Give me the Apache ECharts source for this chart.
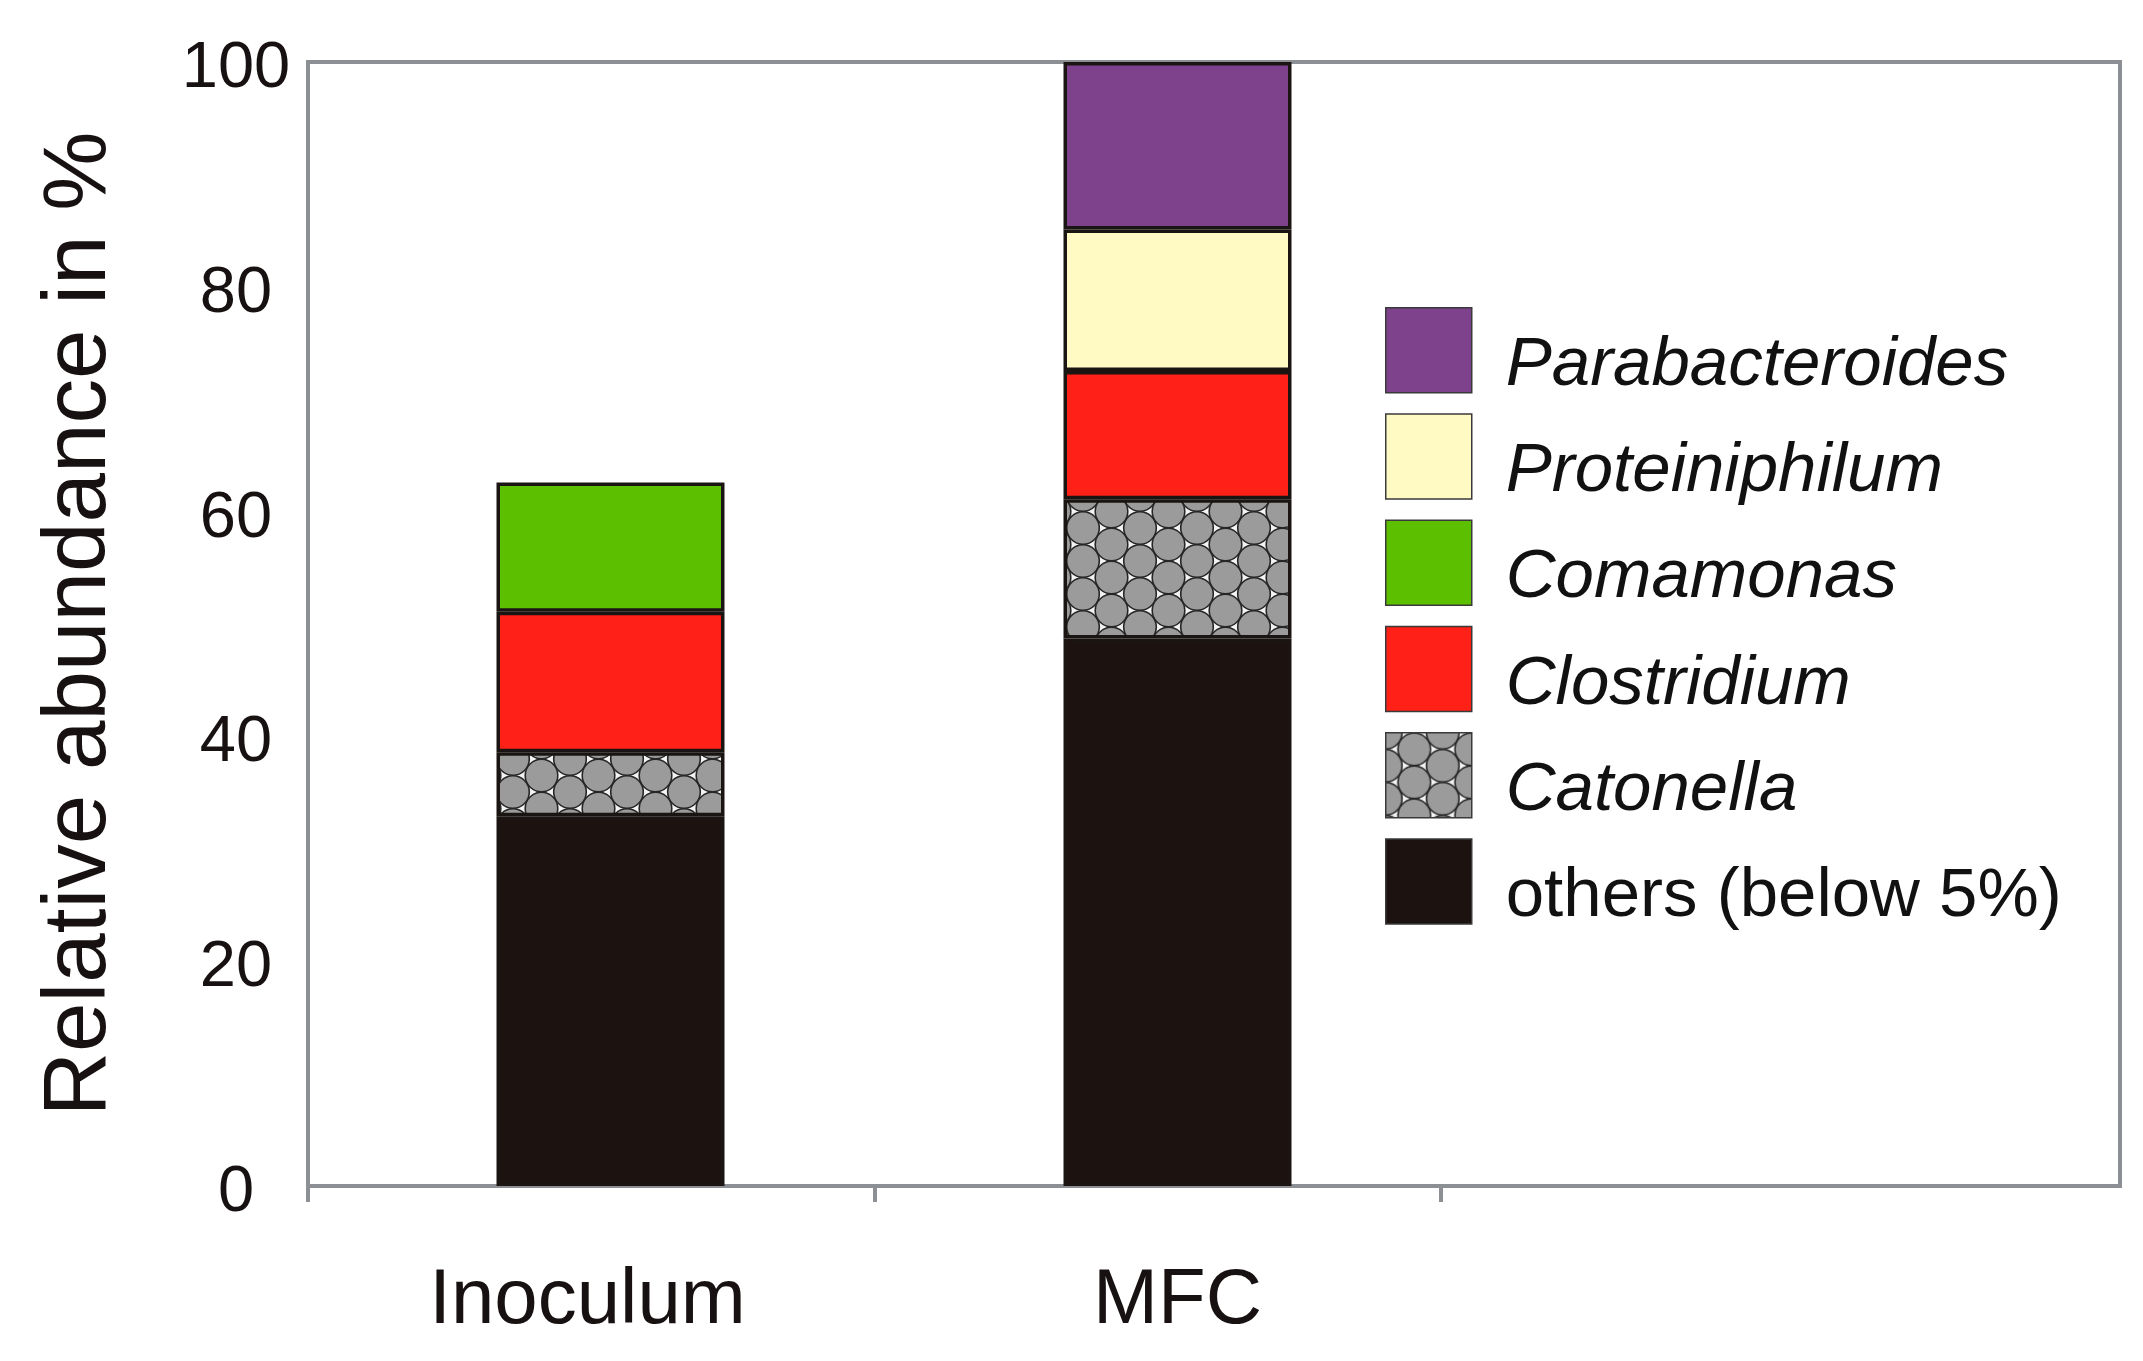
<!DOCTYPE html>
<html>
<head>
<meta charset="utf-8">
<script src="https://cdn.jsdelivr.net/npm/echarts@6/dist/echarts.min.js"></script>
<style>
  html, body { margin: 0; padding: 0; background: #fff; }
  #box { width: 2143px; height: 1361px; }
</style>
</head>
<body>
<div id="box"></div>
<script>
var chart = echarts.init(document.getElementById('box'));

// samples on the x axis
var categories = ['Inoculum', 'MFC'];
// relative abundance in %, bottom of the stack first
var others = [32.9, 48.7];
var catonella = [5.7, 12.4];
var clostridium = [12.5, 11.4];
var comamonas = [11.5, 0];
var proteiniphilum = [0, 12.6];
var parabacteroides = [0, 14.9];
var yTicks = [0, 20, 40, 60, 80, 100];

var FONT = '"Liberation Sans", Arial, sans-serif';
var AXIS_GREY = '#8C8F94';
var EDGE = '#1a1412';

// circle texture used for Catonella
function circlePattern() {
  var w = 57, h = 33, r = 16.3;
  var c = document.createElement('canvas');
  c.width = w; c.height = h;
  var ctx = c.getContext('2d');
  ctx.fillStyle = '#f4f4f4';
  ctx.fillRect(0, 0, w, h);
  var pts = [[0, 0], [w, 0], [0, h], [w, h], [w / 2, h / 2]];
  pts.forEach(function (p) {
    ctx.beginPath();
    ctx.arc(p[0], p[1], r, 0, Math.PI * 2);
    ctx.fillStyle = '#9b9b9b';
    ctx.fill();
    ctx.lineWidth = 1.6;
    ctx.strokeStyle = '#262626';
    ctx.stroke();
  });
  return { image: c, repeat: 'repeat' };
}

var layers = [
  { name: 'others (below 5%)', data: others, color: '#1C1311' },
  { name: 'Catonella', data: catonella, color: circlePattern() },
  { name: 'Clostridium', data: clostridium, color: '#FF2117' },
  { name: 'Comamonas', data: comamonas, color: '#5CC000' },
  { name: 'Proteiniphilum', data: proteiniphilum, color: '#FFFAC4' },
  { name: 'Parabacteroides', data: parabacteroides, color: '#7E418C' }
];

var series = layers.map(function (l) {
  return {
    name: l.name,
    type: 'bar',
    stack: 'total',
    xAxisIndex: 1,
    yAxisIndex: 1,
    barWidth: 228,
    data: l.data.map(function (v) { return v ? v : '-'; }),
    itemStyle: { color: l.color, borderColor: EDGE, borderWidth: 3.5 }
  };
});

var option = {
  animation: false,
  backgroundColor: '#fff',
  grid: [
    // frame of the plot
    { left: 308, top: 62, right: 23, bottom: 175, show: true, borderColor: AXIS_GREY, borderWidth: 4 },
    // grid carrying the bars
    { left: 327, top: 62, width: 1134, bottom: 175 }
  ],
  xAxis: [{
    gridIndex: 0,
    type: 'value',
    min: 0,
    max: 3.2,
    interval: 1,
    axisLine: { show: false },
    splitLine: { show: false },
    axisLabel: { show: false },
    axisTick: { show: true, length: 16, customValues: [0, 1, 2], lineStyle: { color: AXIS_GREY, width: 4 } }
  }, {
    gridIndex: 1,
    type: 'category',
    data: categories,
    axisLine: { show: false },
    axisTick: { show: false },
    axisLabel: {
      fontFamily: FONT, fontSize: 78, color: '#171111', margin: 76,
      formatter: function (v, i) { return i === 0 ? '{a|' + v + '}' : v; },
      rich: { a: { fontFamily: FONT, fontSize: 78, color: '#171111', padding: [0, 46, 0, 0] } }
    }
  }],
  yAxis: [{
    gridIndex: 0,
    type: 'value',
    min: 0,
    max: 100,
    interval: 20,
    axisLine: { show: false },
    axisTick: { show: false },
    splitLine: { show: false },
    axisLabel: {
      fontFamily: FONT, fontSize: 65, color: '#171111', margin: 72, align: 'center',
      verticalAlign: 'top', lineHeight: 14,
      customValues: yTicks
    },
    name: 'Relative abundance in %',
    nameLocation: 'middle',
    nameGap: 183,
    nameTextStyle: { fontFamily: FONT, fontSize: 89, color: '#171111' }
  }, {
    gridIndex: 1,
    type: 'value',
    min: 0,
    max: 100,
    show: false
  }],
  legend: {
    orient: 'vertical',
    left: 1380,
    top: 302,
    itemWidth: 86,
    itemHeight: 85,
    itemGap: 13,
    icon: 'rect',
    data: layers.map(function (l) { return l.name; }).reverse(),
    itemStyle: { borderColor: '#3a3a3a', borderWidth: 1.5 },
    formatter: function (name) {
      return name.indexOf('others') === 0 ? '{n|' + name + '}' : '{i|' + name + '}';
    },
    textStyle: {
      fontFamily: FONT,
      fontSize: 69,
      color: '#111',
      padding: [31, 0, 0, 29],
      rich: {
        i: { fontFamily: FONT, fontSize: 69, fontStyle: 'italic', color: '#111' },
        n: { fontFamily: FONT, fontSize: 69, fontStyle: 'normal', color: '#111' }
      }
    }
  },
  series: series
};

chart.setOption(option);
</script>
</body>
</html>
